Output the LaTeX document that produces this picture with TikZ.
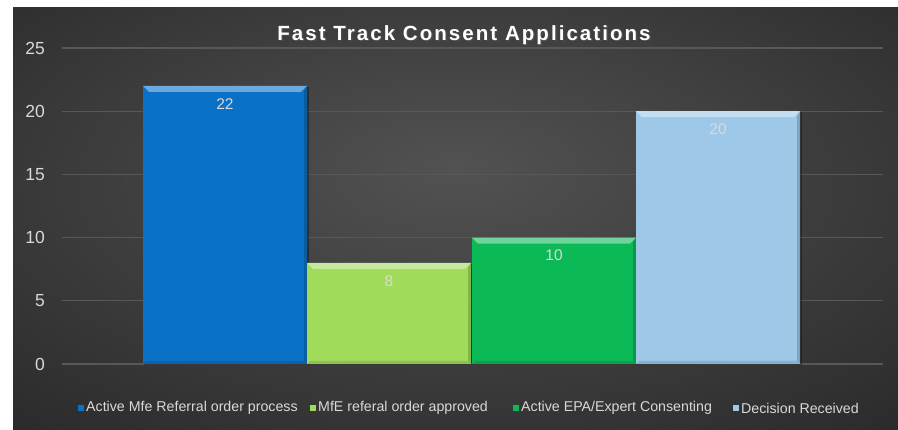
\documentclass[tikz,border=0pt]{standalone}
\usepackage{fontspec}
\setmainfont{Liberation Sans}
\newfontfamily\titlefont{Liberation Sans}[LetterSpace=10]
\usetikzlibrary{positioning}

\definecolor{bgin}{HTML}{525252}
\definecolor{bgout}{HTML}{1E1E1E}
\definecolor{gridcol}{HTML}{585858}
\definecolor{labelcol}{HTML}{D9D9D9}
\definecolor{barA}{HTML}{0A72C6}
\definecolor{barB}{HTML}{A0DC5A}
\definecolor{barC}{HTML}{0BB957}
\definecolor{barD}{HTML}{9DC8E8}
\pgfdeclareradialshading{chartbg}{\pgfpoint{0bp}{6bp}}{color(0bp)=(bgin); color(50bp)=(bgout); color(75bp)=(bgout!80!black)}

\begin{document}
\begin{tikzpicture}
[x=1pt,y=-1pt,%
  every node/.style={inner sep=0pt,text=labelcol},%
  axislabel/.style={anchor=east,font=\fontsize{17.5}{18}\selectfont},%
  vallabel/.style={font=\fontsize{15.5}{16}\selectfont},%
  legtext/.style={anchor=west,font=\fontsize{14.2}{14}\selectfont},%
  legmark/.style={minimum size=6.5pt,fill=#1},%
  titletext/.style={font=\titlefont\bfseries\fontsize{20.5}{21}\selectfont}]
\useasboundingbox (0,0) rectangle (898,430);
\fill[white] (0,0) rectangle (898,430);
\shade[shading=chartbg] (13,8) rectangle (898,430);
% grid and axis
\foreach \k in {0,...,5} {
  \draw[gridcol,line width=1.2pt] (62,{364-63.2*\k}) -- (883,{364-63.2*\k});
  \node[axislabel] (tick\k) at (45,{364-63.2*\k}) {\pgfmathparse{int(5*\k)}\pgfmathresult};
}
% bars
\foreach \x/\v/\c [count=\i] in {143/22/barA,307/8/barB,472/10/barC,636/20/barD} {
  \pgfmathsetmacro\top{364-12.64*\v}
  \fill[black,opacity=0.35] (\x+1,\top+1) rectangle (\x+166,365);
  \fill[\c] (\x,\top) rectangle (\x+164,364);
  \fill[\c!60!white] (\x,\top) -- (\x+164,\top) -- (\x+158,\top+6) -- (\x+6,\top+6) -- cycle;
  \fill[\c!82!black] (\x+164,\top) -- (\x+164,364) -- (\x+161,361) -- (\x+161,\top+5) -- cycle;
  \fill[\c!88!black] (\x,364) -- (\x+164,364) -- (\x+161,361) -- (\x+3,361) -- cycle;
  \node[vallabel] (val\i) at (\x+82,\top+18) {\v};
}
% title
\node[titletext,text=black!70] (titleshadow) at (465.5,36.5) {Fast Track Consent Applications};
\node[titletext,text=white] (title) at (464,35) {Fast Track Consent Applications};
% legend
\node[legtext] (legA) at (86,408) {Active Mfe Referral order process};
\node[legtext] (legB) at (318,408) {MfE referal order approved};
\node[legtext] (legC) at (521,408) {Active EPA/Expert Consenting};
\node[legtext] (legD) at (741,408) {Decision Received};
\node[legmark=barA,left=1.5pt of legA] (markA) {};
\node[legmark=barB,left=1.5pt of legB] (markB) {};
\node[legmark=barC,left=1.5pt of legC] (markC) {};
\node[legmark=barD,left=1.5pt of legD] (markD) {};
\end{tikzpicture}
\end{document}
